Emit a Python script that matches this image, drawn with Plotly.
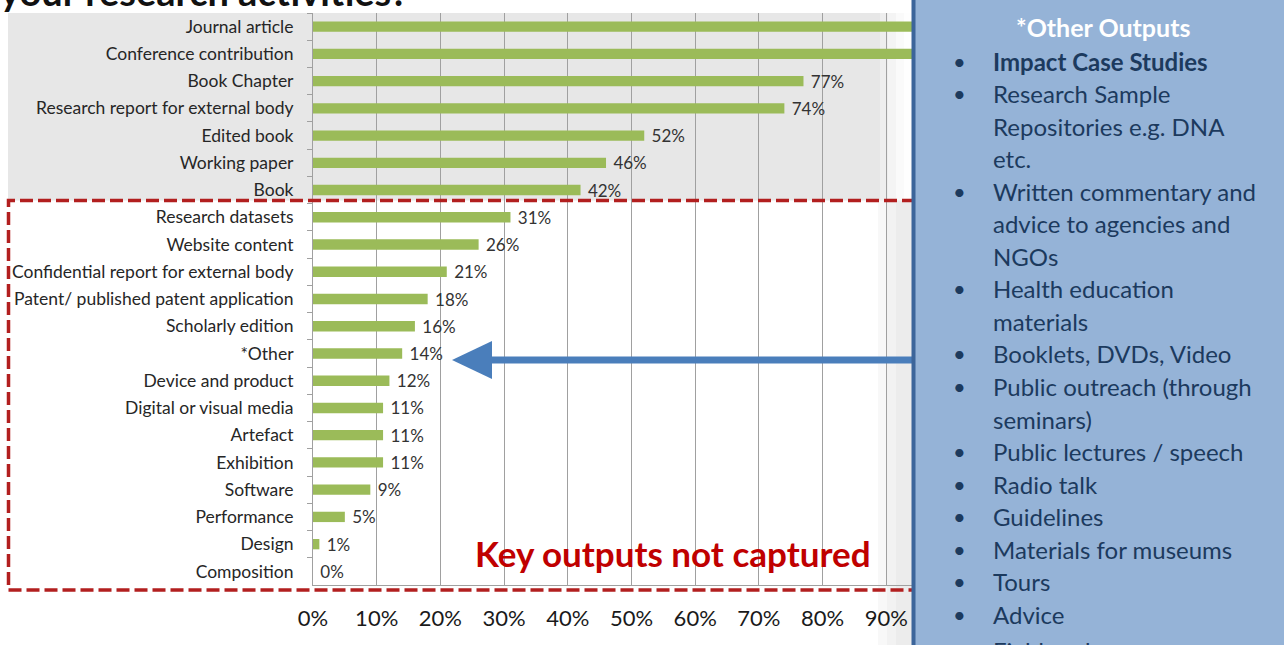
import plotly.graph_objects as go

categories = [
    "Journal article", "Conference contribution", "Book Chapter",
    "Research report for external body", "Edited book", "Working paper", "Book",
    "Research datasets", "Website content", "Confidential report for external body",
    "Patent/ published patent application", "Scholarly edition", "*Other",
    "Device and product", "Digital or visual media", "Artefact", "Exhibition",
    "Software", "Performance", "Design", "Composition",
]
values = [97, 95, 77, 74, 52, 46, 42, 31, 26, 21, 18, 16, 14, 12, 11, 11, 11, 9, 5, 1, 0]
tick_vals = [0, 0.1, 0.2, 0.3, 0.4, 0.5, 0.6, 0.7, 0.8, 0.9]
tick_text = ["0%", "10%", "20%", "30%", "40%", "50%", "60%", "70%", "80%", "90%"]

panel_title = "*Other Outputs"
panel_lines = [  # (text, has_bullet, bold)
    ("Impact Case Studies", True, True),
    ("Research Sample", True, False),
    ("Repositories e.g. DNA", False, False),
    ("etc.", False, False),
    ("Written commentary and", True, False),
    ("advice to agencies and", False, False),
    ("NGOs", False, False),
    ("Health education", True, False),
    ("materials", False, False),
    ("Booklets, DVDs, Video", True, False),
    ("Public outreach (through", True, False),
    ("seminars)", False, False),
    ("Public lectures / speech", True, False),
    ("Radio talk", True, False),
    ("Guidelines", True, False),
    ("Materials for museums", True, False),
    ("Tours", True, False),
    ("Advice", True, False),
    ("Fieldwork", True, False),
]

W, H = 1284, 645
ML, MR, MT, MB = 313, 334, 13, 60
PW, PH = W - ML - MR, H - MT - MB
FONT = "Lato"


def px(xp):
    return (xp - ML) / PW


def py(yp):
    return (H - MB - yp) / PH


fig = go.Figure()
fig.add_trace(go.Bar(
    x=[v / 100 for v in values], y=categories, orientation="h",
    marker=dict(color="#9BBB59", line=dict(width=0)), width=0.38,
    text=["\u00a0" + f"{v}%" for v in values], textposition="outside",
    textfont=dict(family=FONT, size=17, color="#333333"),
    constraintext="none", cliponaxis=False, hoverinfo="skip",
))

shapes = []
# gray background for top rows
shapes.append(dict(type="rect", xref="paper", yref="paper", x0=px(8), x1=px(914),
                   y0=py(200.5), y1=1, fillcolor="#E7E7E7", line_width=0, layer="below"))
# panel glow strips
for i, op in enumerate([0.3, 0.55, 0.8, 0.95]):
    shapes.append(dict(type="rect", xref="paper", yref="paper", x0=px(880 + 8 * i), x1=px(888 + 8 * i),
                       y0=py(200.5), y1=1, fillcolor="white", opacity=op, line_width=0, layer="below"))
for i, op in enumerate([0.35, 0.7, 1.0, 1.0]):
    shapes.append(dict(type="rect", xref="paper", yref="paper", x0=px(878 + 9 * i), x1=px(887 + 9 * i),
                       y0=py(H), y1=py(200.5), fillcolor="#ECECEC", opacity=op, line_width=0, layer="below"))
# red dashed box
shapes.append(dict(type="rect", xref="paper", yref="paper", x0=px(8.5), x1=px(960),
                   y0=py(590), y1=py(200.5), fillcolor="rgba(0,0,0,0)",
                   line=dict(color="#B21F1F", width=3.5, dash="13px,5px"), layer="above"))
# arrow
shapes.append(dict(type="rect", xref="paper", yref="paper", x0=px(490), x1=px(914),
                   y0=py(363.5), y1=py(356.5), fillcolor="#4A7EBB", line_width=0, layer="above"))
shapes.append(dict(type="path", xref="paper", yref="paper",
                   path=f"M {px(452)} {py(360)} L {px(492)} {py(341)} L {px(492)} {py(379)} Z",
                   fillcolor="#4A7EBB", line_width=0, layer="above"))
# panel
shapes.append(dict(type="rect", xref="paper", yref="paper", x0=px(914), x1=px(1300),
                   y0=py(H + 20), y1=py(-20), fillcolor="#95B3D7", line_width=0, layer="above"))
shapes.append(dict(type="line", xref="paper", yref="paper", x0=px(913.5), x1=px(913.5),
                   y0=py(H + 20), y1=py(-20), line=dict(color="#3C659A", width=4), layer="above"))

annotations = []
annotations.append(dict(text="<b>your research activities?</b>", xref="paper", yref="paper",
                        x=px(-2), y=py(16), xanchor="left", yanchor="bottom", showarrow=False,
                        font=dict(family=FONT, size=38, color="#111111")))
annotations.append(dict(text="<b>Key outputs not captured</b>", xref="paper", yref="paper",
                        x=px(673), y=py(553), xanchor="center", yanchor="middle", showarrow=False,
                        font=dict(family=FONT, size=35, color="#C00000")))
annotations.append(dict(text=f"<b>{panel_title}</b>", xref="paper", yref="paper",
                        x=px(1103), y=py(27), xanchor="center", yanchor="middle", showarrow=False,
                        font=dict(family=FONT, size=25, color="white")))
n_lines = len(panel_lines)
for i, (txt, bullet, bold) in enumerate(panel_lines):
    yy = py(61 + 32.55 * i + (4 if i == n_lines - 1 else 0))
    if bullet:
        annotations.append(dict(text="•", xref="paper", yref="paper", x=px(959), y=yy,
                                xanchor="center", yanchor="middle", showarrow=False,
                                font=dict(family=FONT, size=22, color="#1C3A5E")))
    annotations.append(dict(text=f"<b>{txt}</b>" if bold else txt, xref="paper", yref="paper",
                            x=px(991), y=yy, xanchor="left", yanchor="middle", showarrow=False,
                            font=dict(family=FONT, size=24, color="#1C3A5E")))

fig.update_layout(
    width=W, height=H, autosize=False,
    margin=dict(l=ML, r=MR, t=MT, b=MB, pad=0),
    paper_bgcolor="white", plot_bgcolor="rgba(0,0,0,0)",
    showlegend=False, bargap=0.62,
    shapes=shapes, annotations=annotations,
    xaxis=dict(range=[0, 1], tickvals=tick_vals, ticktext=tick_text, showgrid=True,
               gridcolor="#A0A0A0", gridwidth=1, zeroline=False, showline=True,
               linecolor="#A0A0A0", linewidth=1, ticks="", ticklabelstandoff=14,
               tickfont=dict(family=FONT, size=22, color="#1A1A1A"), fixedrange=True),
    yaxis=dict(type="category", autorange="reversed", showgrid=False, zeroline=False,
               showline=True, linecolor="#A0A0A0", linewidth=1, ticks="outside",
               tickson="boundaries", ticklen=5, tickcolor="#A0A0A0", ticklabelstandoff=15,
               tickfont=dict(family=FONT, size=17.5, color="#262626"), fixedrange=True),
)

fig.write_html("out.html", config={"displayModeBar": False, "staticPlot": True},
               post_script="document.body.style.margin='0';document.body.style.overflow='hidden';")
